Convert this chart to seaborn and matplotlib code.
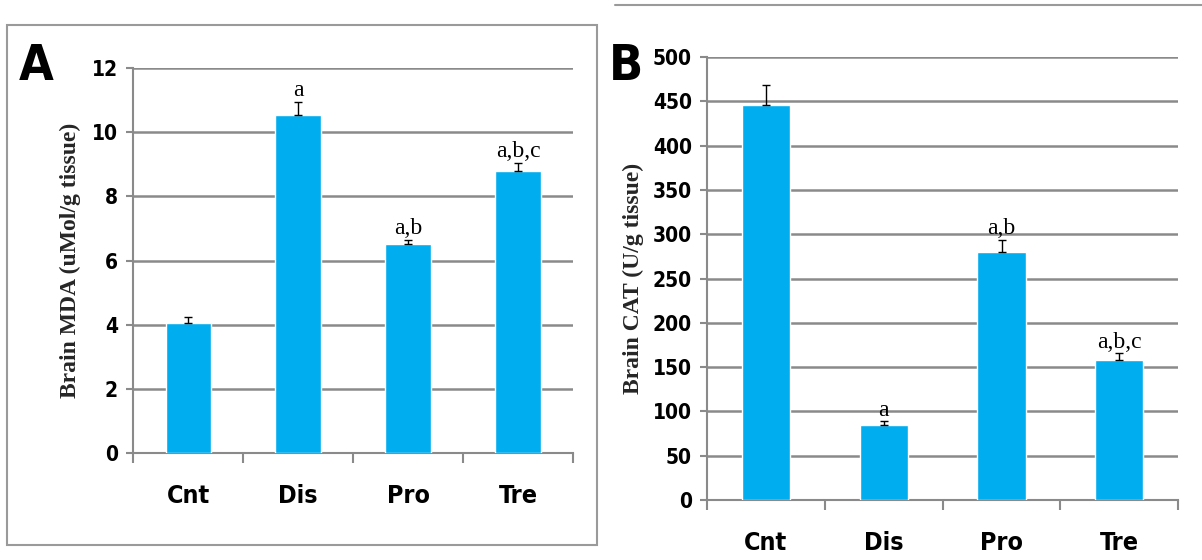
import matplotlib
matplotlib.use("Agg")

import numpy as np
import pandas as pd
import matplotlib.pyplot as plt
import seaborn as sns
from matplotlib.patches import Rectangle
from matplotlib.lines import Line2D
from matplotlib import font_manager

grupos = ["Cnt", "Dis", "Pro", "Tre"]

mda = [4.05, 10.55, 6.5, 8.8]
mda_err = [0.2, 0.4, 0.15, 0.25]
mda_letras = ["", "a", "a,b", "a,b,c"]

cat = [446, 85, 280, 158]
cat_err = [23, 4, 14, 8]
cat_letras = ["", "a", "a,b", "a,b,c"]

AZUL = "#00aeef"
CINZA = "#8a8a8a"

nomes = {f.name for f in font_manager.fontManager.ttflist}
FONTE = "Liberation Sans Narrow" if "Liberation Sans Narrow" in nomes else "DejaVu Sans"

sns.set_theme(style="white")
plt.rcParams["font.family"] = [FONTE, "DejaVu Sans"]
plt.rcParams["font.stretch"] = "condensed"
plt.rcParams["text.color"] = "black"
plt.rcParams["xtick.color"] = "black"
plt.rcParams["ytick.color"] = "black"


def painel(ax, valores, erros, letras, ylim, passo, rotulo, pad_letra, pad_rotulo):
    df = pd.DataFrame({"grupo": grupos, "valor": valores})
    sns.barplot(data=df, x="grupo", y="valor", color=AZUL, saturation=1,
                width=0.41, ax=ax, zorder=3)
    x = np.arange(len(grupos))
    ax.errorbar(x, valores, yerr=[np.zeros(len(erros)), erros], fmt="none",
                ecolor="black", elinewidth=1, capsize=3, capthick=1, zorder=4)
    for xi, v, e, t in zip(x, valores, erros, letras):
        if t:
            ax.text(xi, v + e + pad_letra, t, ha="center", va="bottom",
                    family="Liberation Serif", fontsize=17, zorder=5)
    ax.set_xlim(-0.5, 3.5)
    ax.set_ylim(0, ylim)
    ax.set_yticks(np.arange(0, ylim + passo / 2, passo))
    ax.yaxis.grid(True, color=CINZA, lw=1.8, zorder=0)
    ax.set_axisbelow(True)
    for s in ["top", "right"]:
        ax.spines[s].set_visible(False)
    for s in ["left", "bottom"]:
        ax.spines[s].set_color(CINZA)
        ax.spines[s].set_linewidth(1.5)
    ax.set_xticks(x)
    ax.set_xticklabels(grupos, fontsize=18, fontweight="bold")
    ax.tick_params(axis="x", length=0, pad=22)
    ax.set_xticks(np.arange(-0.5, 4, 1), minor=True)
    ax.tick_params(axis="x", which="minor", length=7, color=CINZA, width=1.5,
                   bottom=True)
    ax.tick_params(axis="y", length=5, color=CINZA, width=1.5, labelsize=15,
                   left=True, pad=6)
    for lb in ax.get_yticklabels():
        lb.set_fontweight("bold")
    ax.set_xlabel("")
    ax.set_ylabel(rotulo, family="Liberation Serif", fontsize=17,
                  fontweight="bold", labelpad=pad_rotulo)


fig = plt.figure(figsize=(12.02, 5.6), dpi=100)

ax_a = fig.add_axes([0.1107, 0.191, 0.366, 0.6875])
painel(ax_a, mda, mda_err, mda_letras, 12, 2,
       "Brain MDA (uMol/g tissue)", 0.02, 8)

ax_b = fig.add_axes([0.5882, 0.1071, 0.392, 0.791])
painel(ax_b, cat, cat_err, cat_letras, 500, 50,
       "Brain CAT (U/g tissue)", 0.5, 6)

# moldura do painel A e linha superior do painel B
fig.patches.append(Rectangle((7 / 1202, 1 - 545 / 560), 590 / 1202, 520 / 560,
                             transform=fig.transFigure, fill=False,
                             edgecolor="#9a9a9a", lw=1.5))
fig.lines.append(Line2D([615 / 1202, 1.0], [0.991, 0.991],
                        transform=fig.transFigure, color="#9a9a9a", lw=1.5))

fig.text(19 / 1202, 1 - 80 / 560, "A", fontsize=36, fontweight="bold")
fig.text(609 / 1202, 1 - 80 / 560, "B", fontsize=36, fontweight="bold")

fig.savefig("out.png", dpi=100)
